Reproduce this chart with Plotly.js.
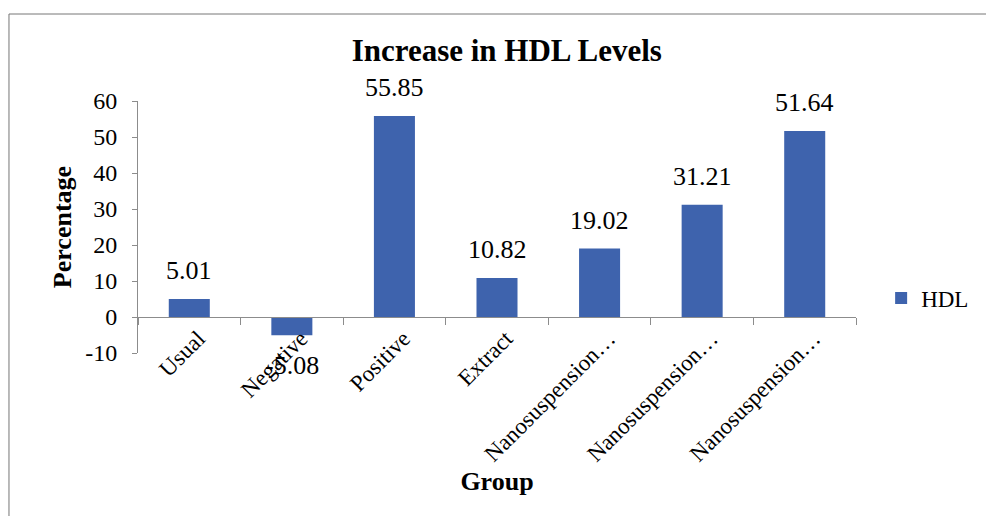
<!DOCTYPE html>
<html>
<head>
<meta charset="utf-8">
<script src="https://cdn.plot.ly/plotly-3.0.1.min.js"></script>
<style>html,body{margin:0;padding:0;background:#fff;}#chart{width:986px;height:516px;}</style>
</head>
<body>
<div id="chart"></div>
<script>
var categories = ["Usual", "Negative", "Positive", "Extract", "Nanosuspension 1", "Nanosuspension 2", "Nanosuspension 3"];
var tickLabels = ["Usual", "Negative", "Positive", "Extract", "Nanosuspension…", "Nanosuspension…", "Nanosuspension…"];
var hdlValues = [5.01, -5.08, 55.85, 10.82, 19.02, 31.21, 51.64];
var seriesName = "HDL";
var yTicks = [-10, 0, 10, 20, 30, 40, 50, 60];
var yTickLabels = ["-10", "0", "10", "20", "30", "40", "50", "60"];

var FONT = "Liberation Serif";
var BAR = "#3E63AD";
var AX = "#8C8C8C";

var trace = {
  type: "bar",
  x: categories,
  y: hdlValues,
  name: seriesName,
  marker: {color: BAR},
  hoverinfo: "skip"
};

var annotations = hdlValues.map(function (v, i) {
  return {
    x: categories[i], y: v, xref: "x", yref: "y",
    text: String(v),
    showarrow: false,
    yanchor: v >= 0 ? "bottom" : "top",
    yshift: v >= 0 ? 12 : -14,
    font: {family: FONT, size: 26, color: "#000"}
  };
});

var layout = {
  width: 986, height: 516,
  margin: {l: 138, r: 130, t: 101, b: 163, pad: 0},
  paper_bgcolor: "#fff", plot_bgcolor: "#fff",
  font: {family: FONT, color: "#000"},
  title: {
    text: "<b>Increase in HDL Levels</b>",
    font: {family: FONT, size: 31, color: "#000"},
    x: 0.514, xref: "container", xanchor: "center",
    y: 0.903, yref: "container", yanchor: "middle"
  },
  bargap: 0.6,
  showlegend: true,
  legend: {
    x: 1.035, xanchor: "left", y: 0.218, yanchor: "middle",
    font: {family: FONT, size: 23, color: "#000"},
    bgcolor: "rgba(0,0,0,0)", itemwidth: 30
  },
  xaxis: {
    type: "category",
    categoryorder: "array", categoryarray: categories,
    tickmode: "array", tickvals: categories, ticktext: tickLabels,
    tickangle: -45,
    tickfont: {family: FONT, size: 23, color: "#000"},
    anchor: "free", position: 1 / 7,
    showline: true, linecolor: AX, linewidth: 1,
    ticks: "outside", ticklen: 7, tickcolor: AX, tickson: "boundaries",
    ticklabelstandoff: -2, ticklabelshift: 9,
    showgrid: false, zeroline: false,
    title: {text: "<b>Group</b>", font: {family: FONT, size: 26, color: "#000"}, standoff: 0}
  },
  yaxis: {
    range: [-10, 60],
    tickmode: "array", tickvals: yTicks, ticktext: yTickLabels,
    tickfont: {family: FONT, size: 24, color: "#000"},
    showline: true, linecolor: AX, linewidth: 1,
    ticks: "outside", ticklen: 5, tickcolor: AX,
    ticklabelstandoff: 10,
    showgrid: false, zeroline: false,
    title: {text: "<b>Percentage</b>", font: {family: FONT, size: 26, color: "#000"}, standoff: 6}
  },
  annotations: annotations,
  shapes: [{
    type: "rect", xref: "paper", yref: "paper",
    x0: -0.1797, x1: 1.2006, y0: -0.702, y1: 1.3452,
    line: {color: "#767676", width: 1}, fillcolor: "rgba(0,0,0,0)", layer: "below"
  }]
};

Plotly.newPlot("chart", [trace], layout, {displayModeBar: false, staticPlot: true});
</script>
</body>
</html>
